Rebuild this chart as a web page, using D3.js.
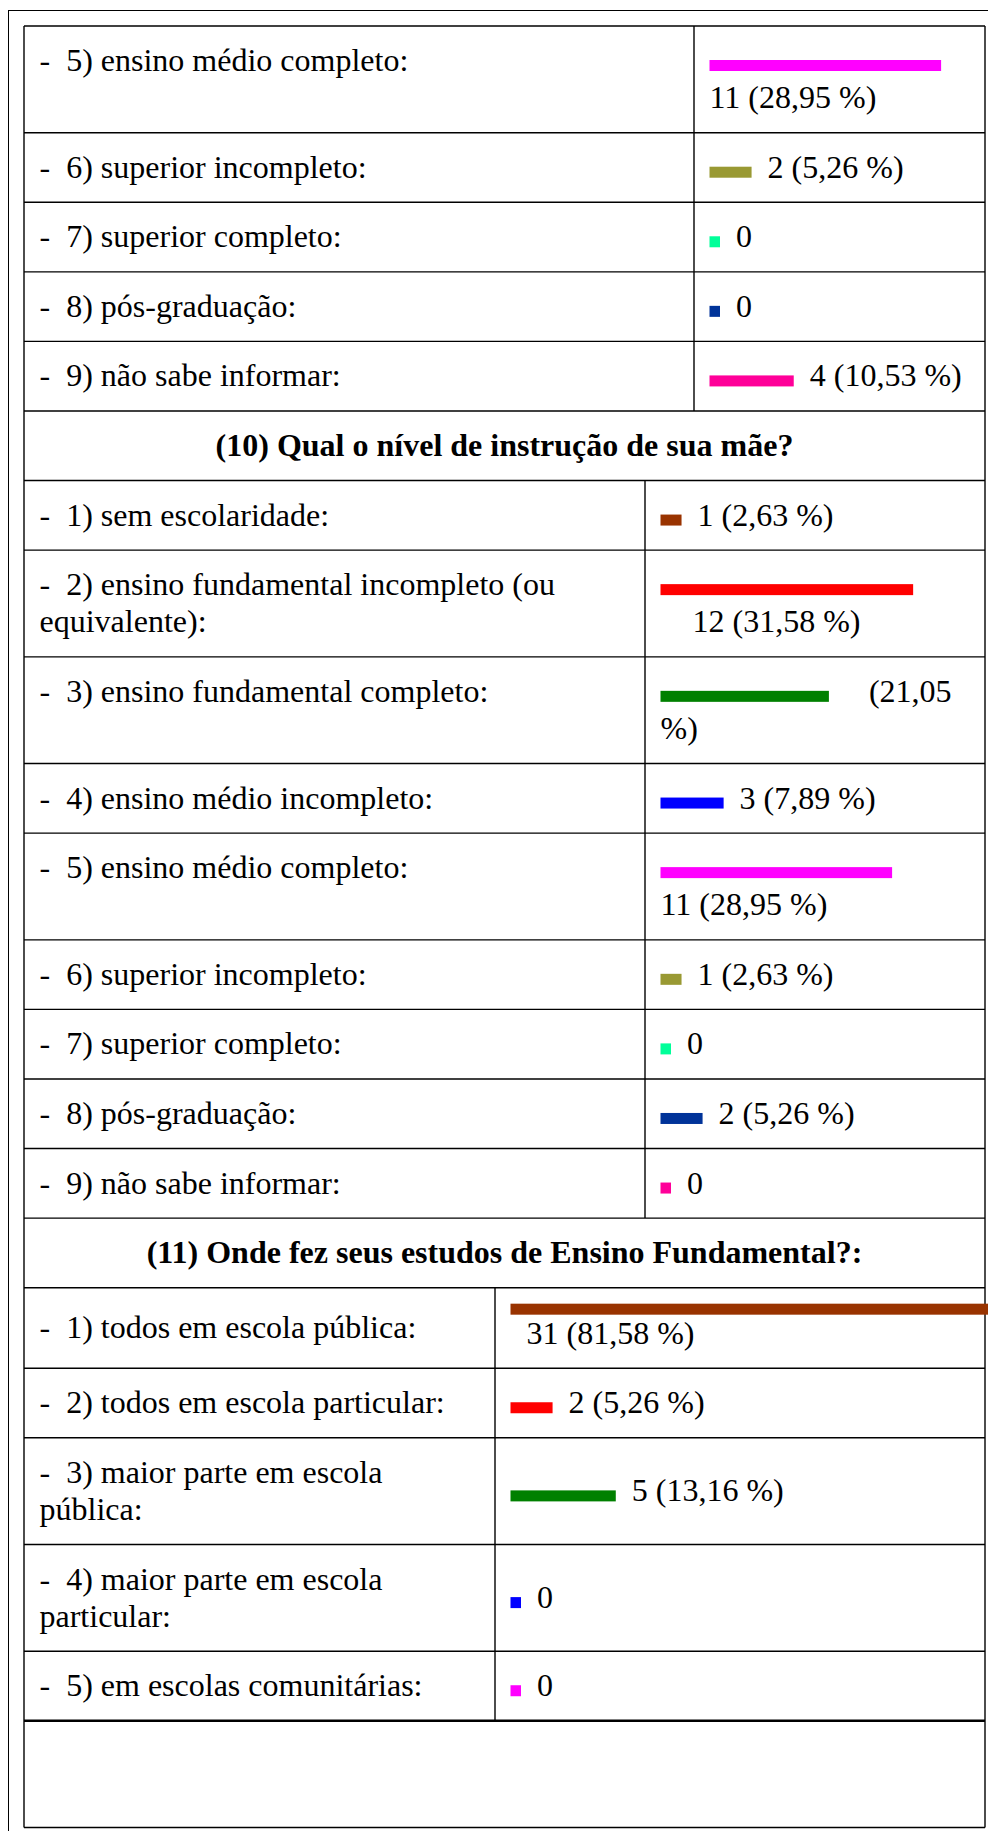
<!DOCTYPE html>
<html>
<head>
<meta charset="utf-8">
<script src="https://cdn.jsdelivr.net/npm/d3@7"></script>
<style>
  body { margin: 0; background: #fff; }
  svg text { font-family: 'Liberation Serif', 'Times New Roman', Times, serif; font-size: 32px; fill: #000; }
</style>
</head>
<body>
<svg id="chart" width="988" height="1831"></svg>
<script>
// cores por número da opção (1..9)
const palette = ["#993300", "#ff0000", "#008000", "#0000ff", "#ff00ff", "#999933", "#00ff99", "#003399", "#ff0099"];

// (9) continuação - nível de instrução do pai
const paiLabels = [
  "-\u00a0\u00a05) ensino médio completo:",
  "-\u00a0\u00a06) superior incompleto:",
  "-\u00a0\u00a07) superior completo:",
  "-\u00a0\u00a08) pós-graduação:",
  "-\u00a0\u00a09) não sabe informar:"
];
const paiOpcoes = [5, 6, 7, 8, 9];
const paiPct = [28.95, 5.26, 0, 0, 10.53];
const paiTextos = ["11\u00a0(28,95\u00a0%)", "2\u00a0(5,26\u00a0%)", "0", "0", "4\u00a0(10,53\u00a0%)"];

// (10) nível de instrução da mãe
const maeTitulo = "(10) Qual o nível de instrução de sua mãe?";
const maeLabels = [
  "-\u00a0\u00a01) sem escolaridade:",
  "-\u00a0\u00a02) ensino fundamental incompleto (ou equivalente):",
  "-\u00a0\u00a03) ensino fundamental completo:",
  "-\u00a0\u00a04) ensino médio incompleto:",
  "-\u00a0\u00a05) ensino médio completo:",
  "-\u00a0\u00a06) superior incompleto:",
  "-\u00a0\u00a07) superior completo:",
  "-\u00a0\u00a08) pós-graduação:",
  "-\u00a0\u00a09) não sabe informar:"
];
const maeOpcoes = [1, 2, 3, 4, 5, 6, 7, 8, 9];
const maePct = [2.63, 31.58, 21.05, 7.89, 28.95, 2.63, 0, 5.26, 0];
const maeTextos = [
  "1\u00a0(2,63\u00a0%)",
  "\u00a0\u00a0\u00a0\u00a012\u00a0(31,58\u00a0%)",
  "\u00a0\u00a0\u00a0(21,05 %)",
  "3\u00a0(7,89\u00a0%)",
  "11\u00a0(28,95\u00a0%)",
  "1\u00a0(2,63\u00a0%)",
  "0",
  "2\u00a0(5,26\u00a0%)",
  "0"
];

// (11) ensino fundamental
const fundTitulo = "(11) Onde fez seus estudos de Ensino Fundamental?:";
const fundLabels = [
  "-\u00a0\u00a01) todos em escola pública:",
  "-\u00a0\u00a02) todos em escola particular:",
  "-\u00a0\u00a03) maior parte em escola pública:",
  "-\u00a0\u00a04) maior parte em escola particular:",
  "-\u00a0\u00a05) em escolas comunitárias:"
];
const fundOpcoes = [1, 2, 3, 4, 5];
const fundPct = [81.58, 5.26, 13.16, 0, 0];
const fundTextos = ["\u00a0\u00a031\u00a0(81,58\u00a0%)", "2\u00a0(5,26\u00a0%)", "5\u00a0(13,16\u00a0%)", "0", "0"];

const svg = d3.select("#chart");
const W = 988, H = 1831;
const tableL = 24, tableR = 985, tableTop = 26;
const LINE = 37.14, PAD_T = 16, PAD_B = 16.43, ASC = 29, BAR_H = 11, GAP = 16, PAD_X = 15.5;

const x = d3.scaleLinear().domain([0, 100]).range([0, 800]);
const color = d3.scaleOrdinal().domain(d3.range(1, 10)).range(palette);

svg.append("rect").attr("width", W).attr("height", H).attr("fill", "#fff");

const measurer = svg.append("text").attr("visibility", "hidden");
function tw(s, bold) {
  measurer.attr("font-weight", bold ? "bold" : null).text(s);
  return measurer.node().getComputedTextLength();
}
const spaceW = tw("a a") - tw("aa");

// quebra simples de palavras para os rótulos
function wrapLabel(str, maxW) {
  let words = str.split(" ");
  let lines = [words[0]];
  words.slice(1).forEach(w => {
    let cur = lines[lines.length - 1];
    if (tw(cur + " " + w) <= maxW) lines[lines.length - 1] = cur + " " + w;
    else lines.push(w);
  });
  return lines;
}

// barra + texto, com quebra quando não cabe
function layoutValue(pct, text, left, right) {
  let barW = Math.max(10.5, x(pct));
  let compact = left + barW > right; // barra sozinha numa linha curta
  let tokens = [];
  let line = compact ? 1 : 0;
  let cursor = compact ? left : left + barW + GAP;
  text.split(" ").forEach(tok => {
    let w = tw(tok);
    if (cursor + w > right && cursor > left) { line++; cursor = left; }
    tokens.push({ s: tok, x: cursor, line: line });
    cursor += w + spaceW;
  });
  let nText = line + 1 - (compact ? 1 : 0);
  let height = compact ? BAR_H + nText * LINE : (line + 1) * LINE;
  return { barW, compact, tokens, height };
}

const sections = [
  { titulo: null, labels: paiLabels, opcoes: paiOpcoes, pct: paiPct, textos: paiTextos, divider: 694, middle: false },
  { titulo: maeTitulo, labels: maeLabels, opcoes: maeOpcoes, pct: maePct, textos: maeTextos, divider: 645, middle: false },
  { titulo: fundTitulo, labels: fundLabels, opcoes: fundOpcoes, pct: fundPct, textos: fundTextos, divider: 495, middle: true }
];

const gLines = svg.append("g");
const gText = svg.append("g");
const gBars = svg.append("g");

function hline(y, sw) {
  return gLines.append("line").attr("x1", tableL).attr("x2", tableR).attr("y1", y).attr("y2", y)
    .attr("stroke", "#000").attr("stroke-width", sw || 1.4);
}
function vline(xx, y0, y1) {
  gLines.append("line").attr("x1", xx).attr("x2", xx).attr("y1", y0).attr("y2", y1)
    .attr("stroke", "#000").attr("stroke-width", 1.4);
}

let y = tableTop;
hline(y);
let lastLine = null;

sections.forEach(sec => {
  if (sec.titulo) {
    let h = PAD_T + LINE + PAD_B;
    gText.append("text").attr("x", (tableL + tableR) / 2).attr("y", y + PAD_T + ASC)
      .attr("text-anchor", "middle").attr("font-weight", "bold").text(sec.titulo);
    y += h;
    hline(y);
  }
  sec.labels.forEach((lab, i) => {
    let labLines = wrapLabel(lab, sec.divider - tableL - 2 * PAD_X);
    let val = layoutValue(sec.pct[i], sec.textos[i], sec.divider + PAD_X, tableR - PAD_X);
    let labH = labLines.length * LINE;
    let inner = Math.max(labH, val.height);
    let rowH = PAD_T + inner + PAD_B;
    let labTop = y + PAD_T + (sec.middle ? (inner - labH) / 2 : 0);
    let valTop = y + PAD_T + (sec.middle ? (inner - val.height) / 2 : 0);

    labLines.forEach((l, j) => {
      gText.append("text").attr("x", tableL + PAD_X).attr("y", labTop + ASC + j * LINE).text(l);
    });

    // linha de texto -> baseline
    let baseOf = ln => val.compact ? valTop + BAR_H + (ln - 1) * LINE + ASC : valTop + ln * LINE + ASC;
    let barY = val.compact ? valTop : valTop + ASC - BAR_H;
    gBars.append("rect")
      .attr("x", sec.divider + PAD_X).attr("y", barY)
      .attr("width", val.barW).attr("height", BAR_H)
      .attr("fill", color(sec.opcoes[i]));
    val.tokens.forEach(t => {
      gText.append("text").attr("x", t.x).attr("y", baseOf(t.line)).text(t.s);
    });

    vline(sec.divider, y, y + rowH);
    y += rowH;
    lastLine = hline(y);
  });
});

// linha mais grossa e célula vazia no final
lastLine.attr("stroke-width", 2.6);
let endY = y + PAD_T + 2 * LINE + PAD_B;
hline(endY);
vline(tableL, tableTop, endY);
vline(tableR, tableTop, endY);

// moldura externa
svg.append("rect").attr("x", 8.5).attr("y", 10.5).attr("width", 1000).attr("height", 2000)
  .attr("fill", "none").attr("stroke", "#000").attr("stroke-width", 1);

measurer.remove();
</script>
</body>
</html>
